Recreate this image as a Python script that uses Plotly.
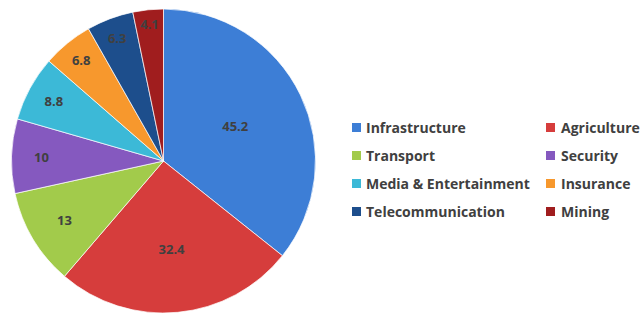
import plotly.graph_objects as go

categories = ["Infrastructure", "Agriculture", "Transport", "Security",
              "Media & Entertainment", "Insurance", "Telecommunication", "Mining"]
values = [45.2, 32.4, 13, 10, 8.8, 6.8, 6.3, 4.1]
colors = ["#3d7ed6", "#d63d3c", "#a2cb4b", "#8559bf", "#3cb9d7", "#f7982d", "#1d4e8c", "#a01d1e"]

fig = go.Figure(go.Pie(
    labels=categories,
    values=values,
    sort=False,
    direction="clockwise",
    rotation=0,
    marker=dict(colors=colors, line=dict(color="rgba(255,255,255,0.7)", width=1)),
    texttemplate="%{value}",
    textposition="inside",
    insidetextorientation="horizontal",
    textfont=dict(family="Open Sans", size=13, color="#404040", weight="bold"),
    hoverinfo="label+value",
    showlegend=False,
    domain=dict(x=[11.5/644, 315.5/644], y=[1 - 313/315, 1 - 9/315]),
))

# legend drawn as text + colour squares, two columns x four rows
col_text_x = [364, 559]
col_icon_x = [352, 546]
row_y = [127.5, 155.5, 183.5, 211.5]
W, H = 644, 315
for i, (name, col) in enumerate(zip(categories, colors)):
    r, c = divmod(i, 2)
    yc = row_y[r]
    fig.add_shape(type="rect", xref="paper", yref="paper",
                  x0=col_icon_x[c] / W, x1=(col_icon_x[c] + 9) / W,
                  y0=1 - (yc + 4.5) / H, y1=1 - (yc - 4.5) / H,
                  fillcolor=col, line=dict(color=col, width=0))
    fig.add_annotation(xref="paper", yref="paper",
                       x=col_text_x[c] / W, y=1 - yc / H,
                       xanchor="left", yanchor="middle",
                       text=name, showarrow=False,
                       font=dict(family="Open Sans", size=14, color="#404040", weight="bold"))

fig.update_layout(
    width=W, height=H,
    margin=dict(l=0, r=0, t=0, b=0),
    paper_bgcolor="white",
    plot_bgcolor="white",
    showlegend=False,
)

fig.write_html("out.html", config={"displayModeBar": False})

# remove the browser's default 8px body margin so the figure fills the window
with open("out.html", "r", encoding="utf-8") as f:
    html = f.read()
html = html.replace("<head>", "<head><style>body{margin:0;padding:0;}</style>", 1)
with open("out.html", "w", encoding="utf-8") as f:
    f.write(html)
